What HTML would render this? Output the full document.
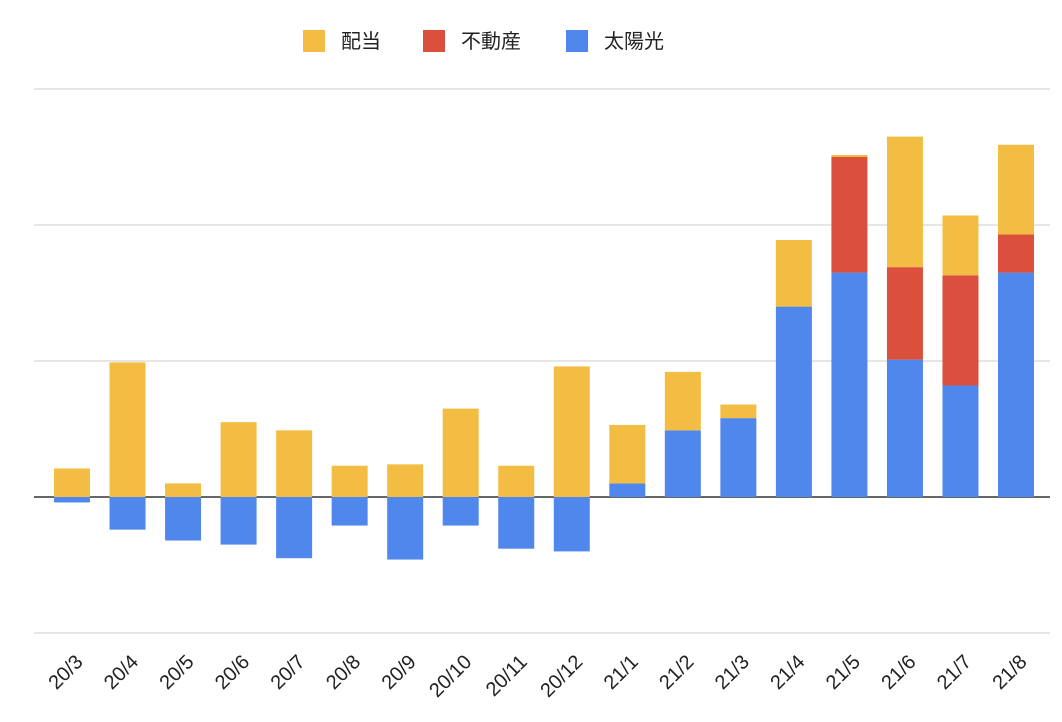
<!DOCTYPE html>
<html><head><meta charset="utf-8"><style>
body{margin:0;background:#fff;}
svg{display:block;font-family:"Liberation Sans","Noto Sans CJK JP",sans-serif;}
</style></head><body>
<svg id="chart" width="1062" height="722">
<g id="legend">
<g><rect x="303" y="30" width="22" height="22" fill="#f2bd42"/><text x="341" y="48" font-size="20" fill="#222">配当</text></g>
<g><rect x="423" y="30" width="22" height="22" fill="#db4f3d"/><text x="461" y="48" font-size="20" fill="#222">不動産</text></g>
<g><rect x="566" y="30" width="22" height="22" fill="#5087ec"/><text x="604" y="48" font-size="20" fill="#222">太陽光</text></g>
</g>
<g id="grid"></g>
<g id="bars"></g>
<g id="xlabels"></g>
</svg>
<script>
const categories=["20/3","20/4","20/5","20/6","20/7","20/8","20/9","20/10","20/11","20/12","21/1","21/2","21/3","21/4","21/5","21/6","21/7","21/8"];
const solar=[-4,-24,-32,-35,-45,-21,-46,-21,-38,-40,10,49,58,140,165,101,82,165];
const realEstate=[0,0,0,0,0,0,0,0,0,0,0,0,0,0,85,68,81,28];
const dividend=[21,99,10,55,49,23,24,65,23,96,43,43,10,49,1.5,96,44,66];
const gridTicks=[-100,0,100,200,300];
const NS="http://www.w3.org/2000/svg";
function y(v){return 497-v*1.36;}
function x(i){return 72+i*55.53;}
const bw=36;
const grid=document.getElementById('grid');
gridTicks.forEach(t=>{
  const l=document.createElementNS(NS,'line');
  l.setAttribute('x1',34);l.setAttribute('x2',1050);
  l.setAttribute('y1',y(t));l.setAttribute('y2',y(t));
  l.setAttribute('stroke',t===0?'#333':'#ccc');l.setAttribute('stroke-width',t===0?1.5:1);
  
  
  grid.appendChild(l);
});
const bars=document.getElementById('bars');
function rect(i,a,b,color,name){
  if(a===b)return;
  const r=document.createElementNS(NS,'rect');
  const top=Math.min(y(a),y(b)),h=Math.abs(y(a)-y(b));
  r.setAttribute('x',x(i)-bw/2);r.setAttribute('y',top);
  r.setAttribute('width',bw);r.setAttribute('height',h);
  r.setAttribute('fill',color);
  
  
  bars.appendChild(r);
}
const xl=document.getElementById('xlabels');
categories.forEach((c,i)=>{
  let pos=0,neg=0;
  const s=solar[i];
  if(s>=0){rect(i,pos,pos+s,'#5087ec','bar-solar-'+c);pos+=s;}else{rect(i,neg,neg+s,'#5087ec','bar-solar-'+c);neg+=s;}
  rect(i,pos,pos+realEstate[i],'#db4f3d','bar-real-estate-'+c);pos+=realEstate[i];
  rect(i,pos,pos+dividend[i],'#f2bd42','bar-dividend-'+c);pos+=dividend[i];
  const t=document.createElementNS(NS,'text');
  const tx=x(i)+12,ty=663;
  t.setAttribute('x',tx);t.setAttribute('y',ty);
  t.setAttribute('text-anchor','end');t.setAttribute('font-size','20');t.setAttribute('fill','#222');
  t.setAttribute('transform','rotate(-45 '+tx+' '+ty+')');
  t.textContent=c;
  
  
  xl.appendChild(t);
});
</script>
</body></html>
